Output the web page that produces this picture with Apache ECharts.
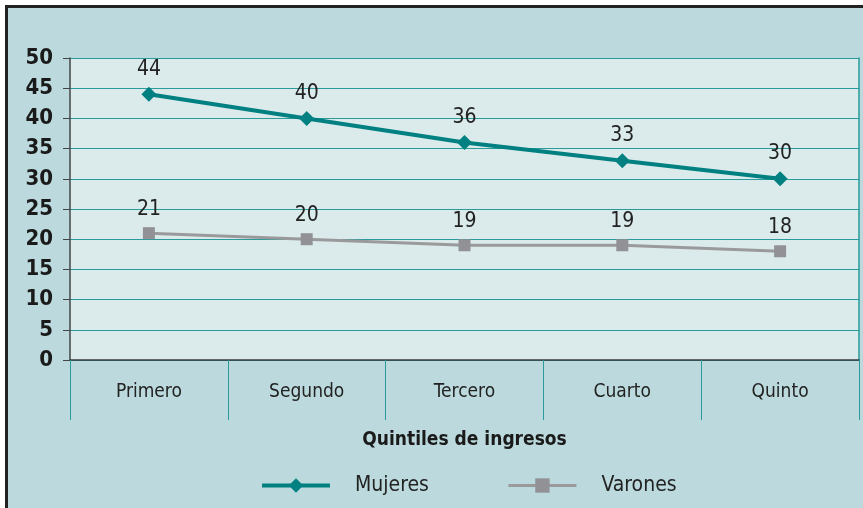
<!DOCTYPE html>
<html><head><meta charset="utf-8">
<script src="https://cdn.jsdelivr.net/npm/echarts@6/dist/echarts.min.js"></script>
<style>html,body{margin:0;padding:0;background:#fff}#c{width:863px;height:508px}</style>
</head><body><div id="c"></div>
<script>
const categories = ['Primero', 'Segundo', 'Tercero', 'Cuarto', 'Quinto'];
const mujeres = [44, 40, 36, 33, 30];
const varones = [21, 20, 19, 19, 18];
const yTicks = [0, 5, 10, 15, 20, 25, 30, 35, 40, 45, 50];
const axisTitle = 'Quintiles de ingresos';

const FONT = '"DejaVu Sans Condensed", sans-serif';
const chart = echarts.init(document.getElementById('c'), null, {renderer: 'canvas'});
chart.setOption({
  backgroundColor: '#bcdadd',
  animation: false,
  textStyle: {fontFamily: FONT},
  grid: {left: 70, right: 4, top: 58, bottom: 148, show: true, backgroundColor: '#dbeaea', borderWidth: 0},
  xAxis: {
    type: 'category', data: categories, boundaryGap: true,
    name: axisTitle, nameLocation: 'middle', nameGap: 71,
    nameTextStyle: {fontFamily: FONT, fontSize: 19, fontWeight: 'bold', color: '#1a1a1a'},
    axisLine: {lineStyle: {color: '#3a3a3a', width: 1.5}},
    axisTick: {show: true, length: 60, alignWithLabel: false, lineStyle: {color: '#2a9a9a', width: 1}},
    axisLabel: {fontFamily: FONT, fontSize: 19, color: '#222', margin: 23}
  },
  yAxis: [{
    type: 'value', min: yTicks[0], max: yTicks[yTicks.length - 1], interval: 5,
    axisLine: {show: true, lineStyle: {color: '#444', width: 1.5}},
    axisTick: {show: true, length: 7, lineStyle: {color: '#444'}},
    axisLabel: {fontFamily: FONT, fontSize: 22, fontWeight: 'bold', color: '#1a1a1a', margin: 17},
    splitLine: {show: true, lineStyle: {color: '#2a9a9a', width: 1.2}}
  }, {
    type: 'value', position: 'right', min: 0, max: 50, interval: 5,
    axisLine: {show: true, lineStyle: {color: '#2a9a9a', width: 1.5}},
    axisTick: {show: false}, axisLabel: {show: false}, splitLine: {show: false}
  }],
  legend: {
    bottom: 12, left: 260, padding: 0, itemWidth: 68, itemHeight: 18, itemGap: 78,
    textStyle: {fontFamily: FONT, fontSize: 21, color: '#222', padding: [0, 0, 0, 20]},
    data: [
      {name: 'Mujeres', lineStyle: {width: 4, color: '#008080'}},
      {name: 'Varones', lineStyle: {width: 3, color: '#9a9a9c'}}
    ]
  },
  series: [{
    name: 'Mujeres', type: 'line', data: mujeres,
    symbol: 'diamond', symbolSize: 15,
    lineStyle: {color: '#008080', width: 4},
    itemStyle: {color: '#008080'},
    label: {show: true, position: 'top', distance: 7, fontFamily: FONT, fontSize: 21, color: '#222'}
  }, {
    name: 'Varones', type: 'line', data: varones,
    symbol: 'rect', symbolSize: 12,
    lineStyle: {color: '#9a9a9c', width: 3},
    itemStyle: {color: '#929296'},
    label: {show: true, position: 'top', distance: 7, fontFamily: FONT, fontSize: 21, color: '#222'}
  }],
  graphic: [
    {type: 'rect', shape: {x: 0, y: 0, width: 5, height: 508}, style: {fill: '#fff'}, silent: true},
    {type: 'rect', shape: {x: 0, y: 0, width: 863, height: 5}, style: {fill: '#fff'}, silent: true},
    {type: 'rect', shape: {x: 5, y: 5, width: 3, height: 503}, style: {fill: '#222'}, silent: true},
    {type: 'rect', shape: {x: 5, y: 5, width: 858, height: 3}, style: {fill: '#222'}, silent: true}
  ]
});
</script></body></html>
